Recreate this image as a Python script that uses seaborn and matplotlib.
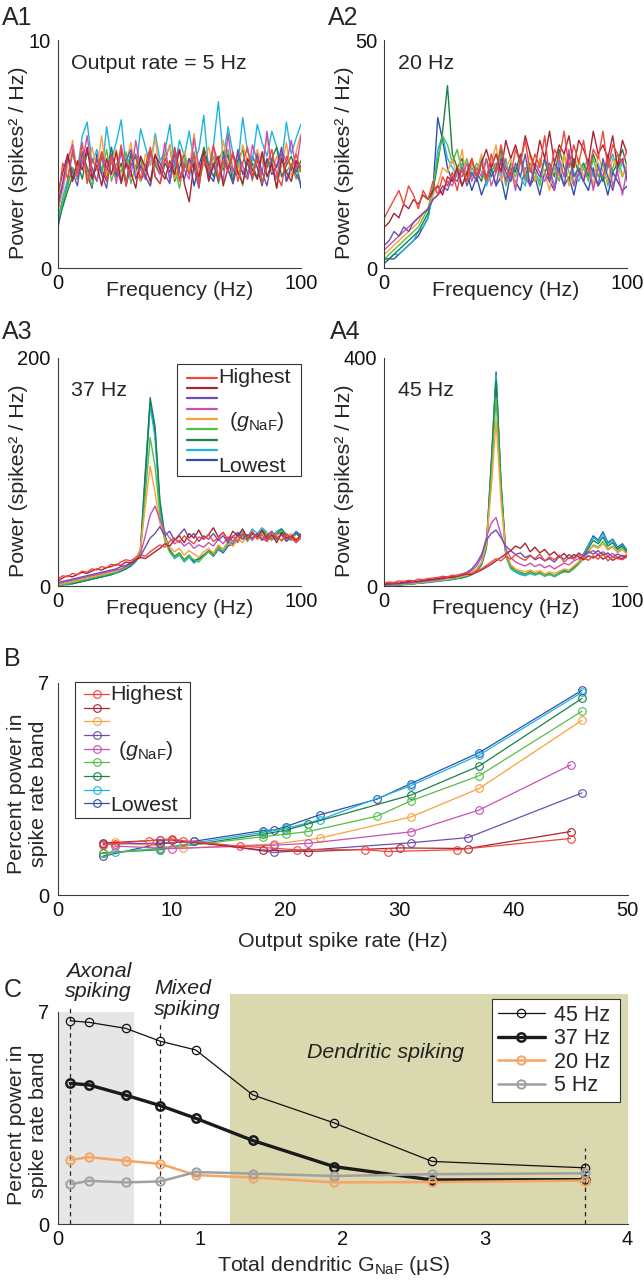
import numpy as np
import matplotlib
matplotlib.use("Agg")
import matplotlib.pyplot as plt
import seaborn as sns
from matplotlib.lines import Line2D

# ------------------------------------------------------------------ data
spec_freq = np.arange(0, 101, 2)          # frequency grid of spectra (Hz)

# ---- A1 : output rate 5 Hz (power, spikes^2/Hz)
a1_red = [3.0,
 4.6, 3.9, 5.2, 4.1, 5.5, 3.7, 4.8, 4.3, 5.1, 3.8,
 4.9, 4.2, 5.4, 3.6, 4.7, 5.0, 3.9, 4.5, 5.3, 4.0,
 3.7, 4.8, 4.4, 5.2, 3.8, 4.6, 4.1, 5.0, 3.6, 4.9,
 4.3, 5.4, 3.9, 4.7, 4.2, 5.1, 3.8, 4.6, 5.3, 4.0,
 4.8, 3.7, 4.5, 5.2, 4.1, 3.6, 4.9, 4.4, 5.0, 4.2]
a1_dred = [3.3,
 4.2, 5.0, 3.8, 4.7, 4.3, 5.3, 3.9, 4.5, 3.6, 4.8,
 4.1, 5.1, 3.7, 4.6, 4.2, 3.5, 4.9, 4.4, 3.8, 5.0,
 4.3, 3.9, 4.7, 4.1, 5.2, 3.7, 2.9, 4.6, 4.0, 5.1,
 3.8, 4.5, 4.9, 3.6, 4.4, 5.0, 4.2, 3.7, 4.8, 4.3,
 3.9, 5.1, 4.0, 4.6, 3.5, 4.8, 4.2, 3.8, 4.7, 4.4]
a1_purp = [2.8,
 3.8, 4.9, 4.2, 3.6, 5.1, 4.4, 3.9, 4.8, 4.1, 3.5,
 5.0, 4.3, 3.8, 4.7, 5.2, 3.9, 4.5, 4.0, 3.6, 4.9,
 4.6, 4.1, 3.7, 5.3, 4.2, 3.9, 4.8, 4.4, 3.5, 5.1,
 4.0, 4.6, 3.8, 4.9, 4.3, 3.7, 5.2, 4.1, 4.6, 3.9,
 5.0, 4.2, 3.6, 4.8, 4.4, 5.3, 3.8, 4.5, 4.1, 3.7]
a1_mag = [2.7,
 3.6, 4.8, 5.4, 4.0, 4.6, 5.8, 4.2, 3.8, 5.1, 4.4,
 4.9, 3.7, 5.3, 4.5, 4.0, 5.6, 4.3, 3.9, 5.0, 4.6,
 4.1, 5.5, 3.8, 4.7, 5.2, 4.3, 3.9, 5.7, 4.4, 4.8,
 4.0, 5.3, 4.6, 3.8, 5.9, 4.2, 5.0, 4.5, 3.9, 5.4,
 4.7, 4.1, 6.0, 4.4, 3.9, 5.2, 4.6, 5.6, 4.3, 5.8]
a1_orng = [2.5,
 3.4, 4.5, 5.6, 4.1, 4.9, 3.8, 5.3, 4.4, 5.8, 4.0,
 4.7, 5.2, 3.9, 4.6, 5.5, 4.2, 3.8, 5.0, 4.5, 5.7,
 4.1, 4.8, 5.4, 3.9, 4.6, 5.1, 4.3, 5.9, 4.0, 4.7,
 5.3, 4.4, 3.9, 5.6, 4.5, 4.9, 4.1, 5.4, 4.7, 3.8,
 5.2, 4.6, 5.8, 4.2, 4.9, 4.4, 5.5, 4.0, 5.1, 5.9]
a1_lgrn = [2.1,
 2.9, 3.6, 4.4, 3.9, 5.0, 4.3, 3.6, 4.8, 4.1, 5.2,
 3.8, 4.6, 4.2, 5.1, 3.7, 4.5, 4.9, 4.0, 3.6, 4.7,
 4.3, 5.0, 3.9, 4.4, 3.5, 4.8, 4.2, 5.1, 3.8, 4.6,
 4.1, 4.9, 3.7, 4.5, 5.2, 4.0, 4.6, 3.6, 4.8, 4.3,
 5.0, 3.8, 4.4, 4.7, 3.5, 4.9, 4.2, 4.6, 3.9, 4.5]
a1_dgrn = [2.0,
 2.7, 3.4, 4.0, 4.6, 3.9, 5.1, 4.4, 3.8, 4.9, 4.2,
 5.3, 4.0, 4.6, 3.7, 5.0, 4.3, 4.8, 3.9, 5.2, 4.5,
 4.1, 4.7, 5.4, 3.8, 4.4, 5.0, 4.2, 4.6, 3.9, 5.3,
 4.5, 4.0, 4.8, 5.1, 4.3, 3.8, 4.7, 5.2, 4.1, 4.6,
 3.9, 5.0, 4.4, 4.8, 5.3, 4.0, 4.5, 4.9, 4.2, 4.7]
a1_cyan = [2.2,
 3.1, 3.9, 5.0, 4.3, 5.8, 6.4, 4.6, 5.2, 4.1, 6.2,
 4.8, 5.5, 6.5, 4.4, 5.0, 4.2, 6.1, 5.3, 4.5, 5.9,
 4.7, 5.1, 6.3, 4.4, 5.6, 4.9, 6.0, 4.6, 5.2, 6.7,
 4.3, 5.4, 7.3, 4.8, 6.2, 5.0, 4.5, 6.6, 5.1, 4.7,
 6.3, 5.5, 4.9, 6.0, 5.3, 4.6, 6.4, 5.0, 5.7, 6.3]
a1_blue = [1.8,
 2.8, 3.7, 4.4, 3.9, 4.8, 4.1, 3.5, 5.0, 4.3, 3.8,
 4.7, 4.0, 5.2, 3.6, 4.5, 4.9, 3.8, 4.3, 5.1, 4.0,
 3.7, 4.6, 4.2, 5.0, 3.9, 4.4, 4.8, 3.6, 4.5, 5.2,
 4.1, 3.8, 4.7, 4.3, 5.0, 3.7, 4.6, 4.2, 3.9, 4.9,
 4.4, 3.6, 4.8, 4.1, 4.5, 5.0, 3.8, 4.3, 4.7, 3.5]

# ---- A2 : output rate 20 Hz
a2_red = [11,
 13, 15, 17, 14, 18, 16, 13, 17, 15, 19,
 16, 20, 18, 21, 17, 22, 19, 24, 20, 23,
 19, 25, 21, 27, 22, 20, 26, 23, 28, 21,
 25, 22, 29, 20, 26, 24, 30, 22, 27, 23,
 28, 21, 26, 24, 30, 22, 27, 25, 23, 26]
a2_dred = [9,
 10, 12, 11, 14, 13, 15, 14, 16, 15, 17,
 18, 16, 20, 19, 22, 18, 21, 24, 20, 23,
 26, 22, 25, 21, 28, 24, 27, 23, 29, 25,
 22, 28, 24, 30, 23, 27, 25, 29, 22, 28,
 26, 23, 30, 25, 27, 24, 29, 22, 28, 25]
a2_purp = [5,
 6, 8, 7, 9, 8, 10, 11, 12, 13, 15,
 16, 18, 17, 20, 19, 22, 18, 21, 19, 23,
 20, 22, 18, 24, 21, 19, 23, 20, 25, 18,
 22, 20, 24, 19, 23, 21, 18, 25, 20, 22,
 19, 23, 21, 18, 24, 20, 17, 22, 24, 19]
a2_mag = [4,
 5, 6, 7, 8, 9, 10, 11, 12, 13, 15,
 16, 17, 19, 18, 21, 20, 23, 19, 22, 20,
 24, 18, 21, 23, 19, 22, 17, 24, 20, 18,
 23, 21, 19, 22, 17, 24, 20, 26, 18, 21,
 19, 23, 17, 22, 20, 25, 18, 21, 16, 22]
a2_orng = [3,
 4, 5, 6, 7, 8, 9, 10, 12, 13, 16,
 18, 22, 21, 24, 20, 26, 19, 23, 21, 25,
 20, 23, 27, 19, 22, 24, 18, 23, 21, 25,
 19, 24, 21, 17, 23, 20, 25, 18, 22, 24,
 20, 23, 18, 25, 21, 19, 24, 22, 20, 23]
a2_lgrn = [2,
 3, 4, 5, 6, 7, 8, 9, 11, 13, 18,
 24, 29, 27, 23, 26, 21, 24, 20, 23, 21,
 19, 23, 21, 25, 18, 22, 20, 24, 19, 23,
 21, 18, 24, 20, 22, 19, 25, 21, 18, 23,
 22, 19, 24, 20, 23, 18, 22, 25, 20, 23]
a2_dgrn = [2,
 2, 3, 4, 5, 6, 7, 8, 10, 12, 17,
 23, 30, 40, 25, 22, 24, 20, 23, 21, 19,
 24, 20, 22, 26, 19, 23, 21, 25, 20, 22,
 19, 24, 21, 23, 20, 26, 22, 19, 24, 21,
 23, 20, 25, 22, 19, 24, 21, 23, 26, 22]
a2_cyan = [2,
 2, 3, 3, 4, 5, 6, 8, 9, 11, 16,
 26, 29, 24, 22, 20, 23, 19, 22, 20, 24,
 18, 21, 23, 20, 24, 19, 22, 20, 18, 23,
 21, 19, 24, 22, 18, 23, 20, 25, 21, 19,
 22, 24, 20, 23, 19, 22, 25, 21, 23, 20]
a2_blue = [1,
 2, 2, 3, 4, 5, 6, 7, 9, 11, 17,
 33, 28, 22, 19, 22, 18, 21, 17, 20, 16,
 19, 22, 18, 20, 15, 21, 19, 17, 22, 18,
 20, 16, 21, 19, 17, 22, 18, 20, 16, 21,
 19, 17, 22, 18, 20, 16, 21, 19, 17, 18]

# ---- A3 : output rate 37 Hz
a3_red = [6,
 9, 8, 11, 10, 13, 12, 15, 14, 17, 16,
 19, 18, 21, 23, 22, 25, 27, 26, 30, 33,
 36, 34, 39, 42, 38, 44, 40, 37, 43, 41,
 45, 39, 42, 47, 40, 44, 38, 46, 42, 48,
 41, 45, 39, 47, 43, 40, 46, 42, 38, 44]
a3_dred = [4,
 7, 9, 8, 10, 12, 11, 13, 15, 14, 16,
 17, 19, 18, 21, 20, 23, 25, 24, 27, 30,
 33, 37, 35, 40, 44, 38, 46, 42, 49, 41,
 45, 51, 43, 47, 40, 48, 44, 50, 42, 46,
 43, 49, 41, 45, 38, 47, 42, 44, 40, 45]
a3_purp = [3,
 4, 5, 6, 7, 8, 9, 10, 11, 12, 13,
 14, 15, 17, 18, 20, 22, 26, 34, 42, 46,
 52, 44, 48, 40, 45, 50, 42, 46, 39, 44,
 41, 46, 40, 44, 38, 43, 47, 41, 45, 42,
 46, 40, 44, 48, 41, 45, 39, 43, 47, 42]
a3_mag = [2,
 3, 4, 5, 6, 7, 8, 9, 10, 11, 12,
 13, 14, 15, 17, 19, 22, 28, 44, 62, 70,
 58, 48, 42, 37, 40, 35, 38, 33, 36, 34,
 38, 35, 41, 37, 43, 39, 45, 41, 44, 40,
 46, 42, 39, 44, 41, 45, 40, 43, 38, 42]
a3_orng = [1,
 2, 3, 4, 5, 6, 7, 8, 9, 10, 11,
 12, 13, 15, 17, 20, 24, 32, 70, 105, 82,
 55, 42, 34, 30, 33, 27, 31, 28, 25, 30,
 33, 29, 36, 32, 39, 35, 42, 38, 45, 41,
 44, 40, 47, 42, 45, 39, 43, 46, 41, 44]
a3_lgrn = [1,
 1, 2, 3, 4, 5, 6, 7, 8, 9, 10,
 11, 12, 14, 16, 19, 23, 30, 80, 130, 105,
 62, 40, 30, 25, 28, 22, 26, 23, 21, 26,
 30, 27, 34, 31, 38, 35, 41, 44, 39, 46,
 42, 47, 43, 40, 45, 48, 42, 40, 46, 44]
a3_dgrn = [1,
 1, 2, 2, 3, 4, 5, 6, 7, 8, 9,
 10, 12, 13, 15, 18, 22, 30, 95, 165, 140,
 75, 45, 32, 26, 29, 23, 27, 22, 24, 27,
 31, 28, 35, 32, 39, 36, 42, 46, 40, 47,
 43, 49, 45, 41, 46, 50, 44, 42, 47, 45]
a3_cyan = [1,
 1, 1, 2, 3, 4, 5, 6, 7, 8, 9,
 10, 11, 13, 15, 17, 21, 28, 90, 158, 130,
 68, 40, 30, 24, 27, 21, 25, 20, 23, 26,
 30, 27, 33, 30, 37, 39, 44, 48, 43, 50,
 46, 51, 47, 43, 48, 50, 45, 42, 48, 44]
a3_blue = [1,
 1, 2, 2, 3, 4, 5, 6, 7, 8, 9,
 10, 12, 13, 15, 18, 22, 32, 100, 160, 135,
 72, 42, 31, 25, 28, 22, 26, 21, 24, 27,
 30, 26, 32, 29, 35, 37, 41, 45, 40, 46,
 42, 48, 44, 41, 45, 47, 43, 40, 46, 42]

# ---- A4 : output rate 45 Hz
a4_red = [5,
 7, 6, 9, 8, 10, 9, 12, 11, 13, 14,
 15, 17, 16, 19, 18, 21, 23, 22, 26, 30,
 36, 42, 48, 44, 52, 47, 55, 49, 45, 53,
 48, 56, 44, 51, 46, 54, 42, 50, 47, 55,
 49, 45, 53, 47, 57, 44, 51, 48, 46, 52]
a4_dred = [3,
 5, 6, 5, 7, 8, 9, 8, 10, 11, 12,
 13, 14, 16, 15, 17, 19, 21, 20, 24, 28,
 33, 38, 44, 50, 56, 62, 70, 66, 75, 60,
 68, 58, 64, 54, 60, 50, 57, 48, 55, 51,
 46, 53, 49, 55, 47, 52, 45, 50, 48, 54]
a4_purp = [2,
 3, 4, 4, 5, 6, 7, 8, 9, 10, 11,
 12, 14, 15, 17, 19, 21, 24, 30, 40, 55,
 80, 92, 98, 85, 70, 62, 55, 58, 50, 54,
 46, 50, 44, 48, 42, 52, 47, 55, 49, 58,
 53, 60, 56, 62, 54, 58, 51, 56, 52, 50]
a4_mag = [2,
 2, 3, 4, 5, 5, 6, 7, 8, 9, 10,
 11, 12, 14, 15, 17, 19, 22, 27, 35, 50,
 85, 110, 120, 90, 65, 50, 42, 38, 35, 40,
 34, 38, 32, 36, 30, 35, 40, 37, 44, 48,
 52, 58, 62, 55, 60, 53, 57, 50, 54, 52]
a4_orng = [1,
 2, 2, 3, 4, 4, 5, 6, 7, 8, 9,
 10, 11, 12, 14, 15, 17, 19, 23, 30, 42,
 75, 170, 290, 150, 60, 38, 30, 27, 25, 28,
 24, 27, 21, 25, 22, 26, 30, 28, 35, 42,
 50, 62, 70, 66, 74, 63, 68, 58, 64, 55]
a4_lgrn = [1,
 1, 2, 2, 3, 4, 4, 5, 6, 7, 8,
 9, 10, 11, 12, 14, 16, 18, 22, 28, 40,
 70, 190, 330, 170, 55, 32, 26, 23, 20, 24,
 20, 23, 18, 21, 17, 22, 25, 24, 30, 38,
 48, 60, 72, 68, 78, 65, 70, 60, 66, 56]
a4_dgrn = [1,
 1, 1, 2, 3, 3, 4, 5, 6, 7, 8,
 9, 10, 11, 12, 13, 15, 17, 21, 27, 38,
 68, 210, 360, 185, 58, 34, 27, 24, 21, 25,
 21, 24, 19, 22, 18, 23, 27, 25, 32, 40,
 52, 66, 80, 74, 86, 70, 76, 64, 70, 58]
a4_cyan = [1,
 1, 1, 2, 2, 3, 4, 5, 5, 6, 7,
 8, 9, 10, 11, 13, 14, 16, 20, 26, 36,
 65, 200, 370, 175, 52, 30, 24, 20, 18, 22,
 19, 22, 17, 20, 16, 21, 25, 24, 31, 40,
 55, 70, 85, 78, 92, 74, 80, 66, 72, 60]
a4_blue = [1,
 1, 2, 2, 3, 3, 4, 5, 6, 7, 8,
 9, 10, 11, 12, 14, 15, 17, 21, 27, 38,
 70, 215, 375, 180, 55, 32, 25, 22, 19, 23,
 20, 23, 18, 21, 17, 22, 26, 25, 33, 42,
 56, 72, 88, 80, 95, 76, 82, 68, 74, 62]

# ---- B : percent power in spike-rate band vs output rate
b_red_x = [4, 5, 8, 10, 11, 16, 21, 27, 29, 35, 45]
b_red_y = [1.65, 1.70, 1.80, 1.86, 1.80, 1.62, 1.50, 1.50, 1.44, 1.50, 1.87]
b_dred_x = [4, 9, 10, 18, 22, 30, 36, 45]
b_dred_y = [1.72, 1.82, 1.82, 1.49, 1.44, 1.56, 1.54, 2.10]
b_orng_x = [5, 11, 19, 23, 31, 37, 46]
b_orng_y = [1.75, 1.55, 1.69, 1.88, 2.58, 3.52, 5.76]
b_purp_x = [4, 9, 12, 19, 31, 36, 46]
b_purp_y = [1.68, 1.72, 1.78, 1.41, 1.73, 1.90, 3.37]
b_mag_x = [5, 10, 19, 22, 31, 37, 45]
b_mag_y = [1.62, 1.54, 1.65, 1.71, 2.09, 2.81, 4.29]
b_lgrn_x = [4, 9, 18, 20, 22, 28, 31, 37, 46]
b_lgrn_y = [1.38, 1.53, 1.93, 2.01, 2.10, 2.60, 3.11, 3.94, 6.06]
b_dgrn_x = [4, 9, 18, 20, 22, 31, 37, 46]
b_dgrn_y = [1.40, 1.50, 2.01, 2.14, 2.35, 3.30, 4.26, 6.48]
b_cyan_x = [5, 9, 18, 20, 23, 31, 37, 46]
b_cyan_y = [1.42, 1.55, 2.07, 2.20, 2.48, 3.61, 4.62, 6.68]
b_blue_x = [4, 9, 12, 18, 19, 20, 23, 28, 31, 37, 46]
b_blue_y = [1.29, 1.70, 1.78, 2.13, 2.15, 2.26, 2.65, 3.16, 3.68, 4.70, 6.75]

# ---- C : percent power vs total dendritic G_NaF
c_gnaf = [0.09, 0.22, 0.48, 0.72, 0.97, 1.37, 1.94, 2.63, 3.70]
c_45hz = [6.70, 6.65, 6.45, 6.03, 5.74, 4.26, 3.34, 2.07, 1.86]
c_37hz = [4.64, 4.59, 4.25, 3.91, 3.49, 2.76, 1.90, 1.46, 1.47]
c_20hz = [2.12, 2.21, 2.09, 1.99, 1.62, 1.54, 1.38, 1.39, 1.44]
c_05hz = [1.32, 1.43, 1.38, 1.41, 1.72, 1.67, 1.59, 1.65, 1.68]
c_region_axonal = (0.0, 0.535)
c_region_dendritic = (1.21, 4.0)
c_boundaries = [0.09, 0.72, 3.70]
c_boundary_tops = [7.22, 6.59, 2.50]

# ------------------------------------------------------------------ style
sns.set_style("white")
plt.rcParams["font.family"] = ["Liberation Sans", "DejaVu Sans"]
plt.rcParams["mathtext.fontset"] = "custom"
plt.rcParams["mathtext.rm"] = "Liberation Sans"
plt.rcParams["mathtext.it"] = "Liberation Sans:italic"
plt.rcParams["mathtext.bf"] = "Liberation Sans:bold"

COL = {"red": "#f0463c", "dred": "#aa2332", "purp": "#6950af",
       "mag": "#c850b4", "orng": "#faa03c", "lgrn": "#55be46",
       "dgrn": "#198246", "cyan": "#1eb4e1", "blue": "#2d50aa"}
draw_order = ["blue", "cyan", "dgrn", "lgrn", "orng", "mag", "purp", "dred", "red"]
a_legend_order = ["red", "dred", "purp", "mag", "orng", "lgrn", "dgrn", "cyan", "blue"]
b_legend_order = ["red", "dred", "orng", "purp", "mag", "lgrn", "dgrn", "cyan", "blue"]

SPINE = "#3c3c3c"
TICK_FS = 14.5
LAB_FS = 15.4
W, H = 644, 1280

fig = plt.figure(figsize=(W / 100, H / 100), dpi=100)


def add_ax(left, top, right, bottom):
    return fig.add_axes([left / W, 1 - bottom / H, (right - left) / W, (bottom - top) / H])


def style(ax, xticks, xlabels, yticks, ylabels, xlim, ylim, xpad=4.3, ypad=5.0):
    sns.despine(ax=ax)
    for s in ("left", "bottom"):
        ax.spines[s].set_color(SPINE)
        ax.spines[s].set_linewidth(0.8)
    ax.set_xlim(*xlim)
    ax.set_ylim(*ylim)
    ax.set_xticks(xticks)
    ax.set_xticklabels(xlabels)
    ax.set_yticks(yticks)
    ax.set_yticklabels(ylabels)
    ax.tick_params(direction="in", length=3.5, width=0.8, color=SPINE,
                   labelsize=TICK_FS, labelcolor="#111111")
    ax.tick_params(axis="x", pad=xpad)
    ax.tick_params(axis="y", pad=ypad)
    ax.set_facecolor("none")


# ------------------------------------------------------------------ A panels
a_sets = [
    (dict(red=a1_red, dred=a1_dred, purp=a1_purp, mag=a1_mag, orng=a1_orng,
          lgrn=a1_lgrn, dgrn=a1_dgrn, cyan=a1_cyan, blue=a1_blue), 10, "Output rate = 5 Hz"),
    (dict(red=a2_red, dred=a2_dred, purp=a2_purp, mag=a2_mag, orng=a2_orng,
          lgrn=a2_lgrn, dgrn=a2_dgrn, cyan=a2_cyan, blue=a2_blue), 50, "20 Hz"),
    (dict(red=a3_red, dred=a3_dred, purp=a3_purp, mag=a3_mag, orng=a3_orng,
          lgrn=a3_lgrn, dgrn=a3_dgrn, cyan=a3_cyan, blue=a3_blue), 200, "37 Hz"),
    (dict(red=a4_red, dred=a4_dred, purp=a4_purp, mag=a4_mag, orng=a4_orng,
          lgrn=a4_lgrn, dgrn=a4_dgrn, cyan=a4_cyan, blue=a4_blue), 400, "45 Hz"),
]
a_boxes = [(58, 40, 301, 268), (384.3, 40, 627.3, 268),
           (57.7, 357.7, 301, 586), (384.3, 357.7, 627.3, 586)]
a_text_y = [0.898, 0.898, 0.858, 0.858]
a_axes = []
for (series, ymax, title), box, ty in zip(a_sets, a_boxes, a_text_y):
    ax = add_ax(*box)
    a_axes.append(ax)
    for key in draw_order:
        vals = series[key]
        n = min(len(vals), len(spec_freq))
        sns.lineplot(x=spec_freq[:n], y=vals[:n], color=COL[key], lw=1.0,
                     ax=ax, estimator=None, legend=False)
    yt = np.linspace(0, ymax, 6)
    style(ax, np.arange(0, 101, 20), ["0", "", "", "", "", "100"],
          yt, ["0", "", "", "", "", str(ymax)], (0, 100), (0, ymax))
    ax.set_xlabel("Frequency (Hz)", fontsize=LAB_FS)
    ax.xaxis.set_label_coords(0.5, -0.097)
    ax.xaxis.label.set_va("center")
    ax.set_ylabel("Power (spikes² / Hz)", fontsize=LAB_FS)
    ax.yaxis.set_label_coords(-0.123, 0.46)
    ax.text(0.055, ty, title, transform=ax.transAxes, fontsize=LAB_FS,
            ha="left", va="center")

# legend in A3
ax3 = a_axes[2]
h_a = [Line2D([], [], color=COL[k], lw=1.6) for k in a_legend_order]
leg = ax3.legend(h_a, [" "] * 9, loc="upper left",
                 bbox_to_anchor=(0.489, 0.0, 0.511, 0.972), mode="expand",
                 borderaxespad=0, fontsize=6, labelspacing=0.30, borderpad=1.27,
                 handlelength=3.6, handletextpad=0.5, frameon=True,
                 fancybox=False, edgecolor="#333333", framealpha=1)
leg.get_frame().set_linewidth(0.8)
ax3.text(0.659, 0.914, "Highest", transform=ax3.transAxes, fontsize=LAB_FS,
         ha="left", va="center", zorder=10)
ax3.text(0.819, 0.719, r"($\mathit{g}_{\mathrm{NaF}}$)", transform=ax3.transAxes,
         fontsize=LAB_FS, ha="center", va="center", zorder=10)
ax3.text(0.659, 0.523, "Lowest", transform=ax3.transAxes, fontsize=LAB_FS,
         ha="left", va="center", zorder=10)

# ------------------------------------------------------------------ B
axb = add_ax(57.5, 682.7, 627.5, 895.3)
b_data = {"red": (b_red_x, b_red_y), "dred": (b_dred_x, b_dred_y),
          "orng": (b_orng_x, b_orng_y), "purp": (b_purp_x, b_purp_y),
          "mag": (b_mag_x, b_mag_y), "lgrn": (b_lgrn_x, b_lgrn_y),
          "dgrn": (b_dgrn_x, b_dgrn_y), "cyan": (b_cyan_x, b_cyan_y),
          "blue": (b_blue_x, b_blue_y)}
for key in draw_order:
    bx, by = b_data[key]
    sns.lineplot(x=bx, y=by, color=COL[key], lw=0.9, marker="o", ms=5.5,
                 mfc="none", mec=COL[key], mew=0.8, ax=axb, estimator=None,
                 legend=False, sort=False)
style(axb, np.arange(0, 51, 5),
      ["0", "", "10", "", "20", "", "30", "", "40", "", "50"],
      np.arange(0, 8, 1), ["0", "", "", "", "", "", "", "7"], (0, 50), (0, 7),
      xpad=4.3, ypad=6.0)
axb.set_xlabel("Output spike rate (Hz)", fontsize=LAB_FS)
axb.xaxis.set_label_coords(0.5, -0.218)
axb.xaxis.label.set_va("center")
axb.set_ylabel("Percent power in\nspike rate band", fontsize=LAB_FS, linespacing=1.25)
axb.yaxis.set_label_coords(-0.0525, 0.48)
axb.yaxis.label.set_va("center")
h_b = [Line2D([], [], color=COL[k], lw=0.9, marker="o", ms=5.5, mfc="none",
              mec=COL[k], mew=0.8) for k in b_legend_order]
legb = axb.legend(h_b, [" "] * 9, loc="upper left",
                  bbox_to_anchor=(0.030, 0.0, 0.2018, 1.005), mode="expand",
                  borderaxespad=0, fontsize=6, labelspacing=0.70, borderpad=1.14,
                  handlelength=3.0, handletextpad=0.5, frameon=True,
                  fancybox=False, edgecolor="#333333", framealpha=1)
legb.get_frame().set_linewidth(0.8)
axb.text(0.092, 0.945, "Highest", transform=axb.transAxes, fontsize=LAB_FS,
         ha="left", va="center", zorder=10)
axb.text(0.155, 0.683, r"($\mathit{g}_{\mathrm{NaF}}$)", transform=axb.transAxes,
         fontsize=LAB_FS, ha="center", va="center", zorder=10)
axb.text(0.092, 0.421, "Lowest", transform=axb.transAxes, fontsize=LAB_FS,
         ha="left", va="center", zorder=10)

# ------------------------------------------------------------------ C
axc = add_ax(57.5, 1011.7, 627.5, 1224.3)
axc.axvspan(*c_region_axonal, ymin=0, ymax=1, color="#e6e6e6", lw=0, zorder=0)
axc.axvspan(*c_region_dendritic, ymin=0, ymax=7.57 / 7, color="#d9d8ae", lw=0,
            zorder=0, clip_on=False)
for bx, bt in zip(c_boundaries, c_boundary_tops):
    axc.axvline(bx, ymin=0, ymax=bt / 7, color="#222222", lw=0.9,
                ls=(0, (3.5, 3)), clip_on=False, zorder=1)
c_styles = [
    (c_45hz, "45 Hz", "#111111", 0.9, 0.9),
    (c_37hz, "37 Hz", "#1a1a1a", 2.4, 1.8),
    (c_20hz, "20 Hz", "#f5a564", 1.8, 1.4),
    (c_05hz, "5 Hz", "#a0a0a0", 1.8, 1.4),
]
h_c = []
for vals, lab, col, lw, mew in c_styles:
    sns.lineplot(x=c_gnaf, y=vals, color=col, lw=lw, marker="o", ms=6,
                 mfc="none", mec=col, mew=mew, ax=axc, estimator=None,
                 legend=False, sort=False, zorder=3)
    h_c.append(Line2D([], [], color=col, lw=lw, marker="o", ms=6, mfc="none",
                      mec=col, mew=mew))
style(axc, np.arange(0, 4.01, 0.5), ["0", "", "1", "", "2", "", "3", "", "4"],
      np.arange(0, 8, 1), ["0", "", "", "", "", "", "", "7"], (0, 4), (0, 7),
      xpad=4.3, ypad=6.0)
axc.set_xlabel(r"Total dendritic G$_{\mathrm{NaF}}$ (µS)", fontsize=LAB_FS)
axc.xaxis.set_label_coords(0.485, -0.193)
axc.xaxis.label.set_va("center")
axc.set_ylabel("Percent power in\nspike rate band", fontsize=LAB_FS, linespacing=1.25)
axc.yaxis.set_label_coords(-0.0525, 0.47)
axc.yaxis.label.set_va("center")
legc = axc.legend(h_c, [s[1] for s in c_styles], loc="upper left",
                  bbox_to_anchor=(0.763, 0.0, 0.2235, 1.0585), mode="expand",
                  borderaxespad=0, fontsize=15.5, labelspacing=0.12, borderpad=0.25,
                  handlelength=2.2, handletextpad=0.4, frameon=True,
                  fancybox=False, edgecolor="#333333", framealpha=1)
legc.get_frame().set_linewidth(0.8)
legc.set_zorder(10)
axc.text(0.288, 8.0, "Axonal\nspiking", fontsize=LAB_FS, style="italic",
         ha="center", va="center", linespacing=1.1, color="#222222")
axc.text(0.677, 7.43, "Mixed\nspiking", fontsize=LAB_FS, style="italic",
         ha="left", va="center", linespacing=1.15, color="#222222")
axc.text(2.3, 5.67, "Dendritic spiking", fontsize=LAB_FS, style="italic",
         ha="center", va="center", color="#222222")

# ------------------------------------------------------------------ panel labels
for lab, x, y in [("A1", 2, 18), ("A2", 328, 18), ("A3", 2, 332), ("A4", 330, 332),
                  ("B", 4, 659), ("C", 4, 990)]:
    fig.text(x / W, 1 - y / H, lab, fontsize=18, ha="left", va="center")

fig.savefig("out.png", dpi=100)
